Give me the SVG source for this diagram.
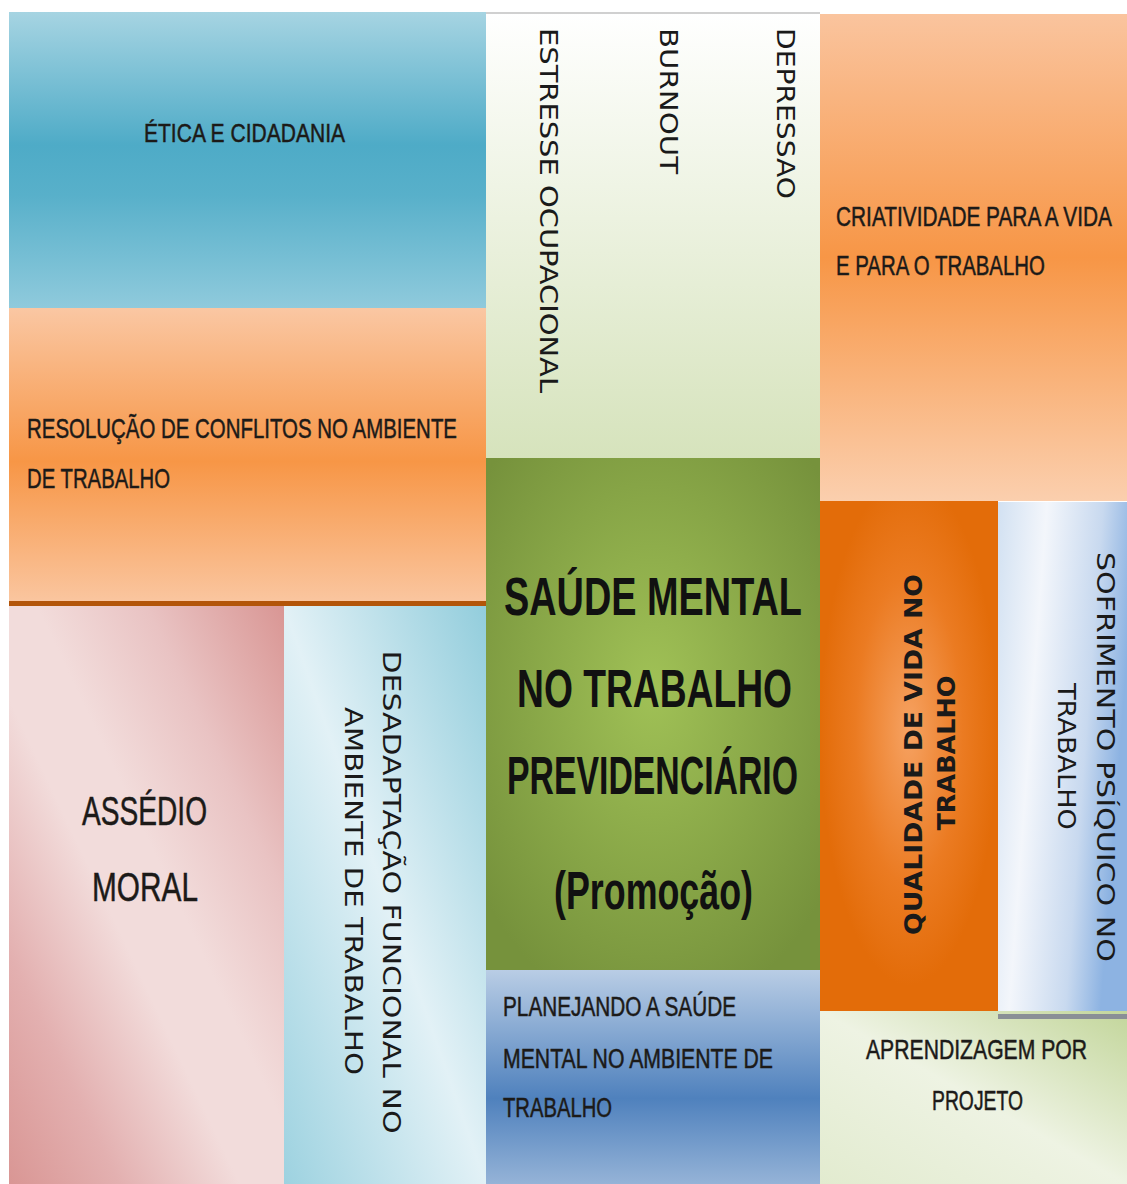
<svg xmlns="http://www.w3.org/2000/svg" width="1127" height="1184" viewBox="0 0 1127 1184">
<defs>
<style>
.h{font-family:"Liberation Sans","DejaVu Sans",sans-serif;fill:#1c1a18;stroke:#1c1a18;stroke-width:0.5px;font-size:27px}
.big{font-family:"Liberation Sans","DejaVu Sans",sans-serif;fill:#111;font-size:54px;font-weight:bold}
.v{font-family:"DejaVu Sans","Liberation Sans",sans-serif;fill:#1a1a1a;font-size:24px}
.vb{font-family:"DejaVu Sans","Liberation Sans",sans-serif;fill:#1a1a1a;font-size:24px;font-weight:bold}
</style>
<linearGradient id="gBlue" x1="0" y1="0" x2="0" y2="1">
<stop offset="0" stop-color="#a6d4e2"/><stop offset="0.45" stop-color="#4eabc7"/><stop offset="0.62" stop-color="#58b0ca"/><stop offset="1" stop-color="#8fcadc"/>
</linearGradient>
<linearGradient id="gOr1" x1="0" y1="0" x2="0" y2="1">
<stop offset="0" stop-color="#fac7a3"/><stop offset="0.52" stop-color="#f79646"/><stop offset="1" stop-color="#fac6a0"/>
</linearGradient>
<linearGradient id="gOr2" x1="0" y1="0" x2="0" y2="1">
<stop offset="0" stop-color="#fac49e"/><stop offset="0.5" stop-color="#f79646"/><stop offset="1" stop-color="#fbcfae"/>
</linearGradient>
<linearGradient id="gWhite" x1="0" y1="0" x2="0" y2="1">
<stop offset="0" stop-color="#ffffff"/><stop offset="1" stop-color="#d6e3bc"/>
</linearGradient>
<radialGradient id="gGreen" cx="0.5" cy="0.45" r="0.65">
<stop offset="0" stop-color="#a0c156"/><stop offset="1" stop-color="#76923c"/>
</radialGradient>
<linearGradient id="gPlan" x1="0" y1="0" x2="0" y2="1">
<stop offset="0" stop-color="#b9cde5"/><stop offset="0.6" stop-color="#4f81bd"/><stop offset="1" stop-color="#95b3d7"/>
</linearGradient>
<radialGradient id="gQual" cx="0.5" cy="0.45" r="0.5">
<stop offset="0" stop-color="#f6a262"/><stop offset="0.6" stop-color="#eb7b22"/><stop offset="1" stop-color="#e36c09"/>
</radialGradient>
<linearGradient id="gSof" x1="0" y1="0" x2="1" y2="0.3">
<stop offset="0" stop-color="#d2e1f2"/><stop offset="0.35" stop-color="#f3f6fb"/><stop offset="0.75" stop-color="#c8d9ef"/><stop offset="1" stop-color="#8db3e2"/>
</linearGradient>
<linearGradient id="gApr" x1="1" y1="0" x2="0" y2="1">
<stop offset="0" stop-color="#c3d69b"/><stop offset="0.5" stop-color="#eef3e3"/><stop offset="1" stop-color="#e2ebcf"/>
</linearGradient>
<linearGradient id="gPink" x1="1" y1="0" x2="0" y2="1">
<stop offset="0" stop-color="#d99694"/><stop offset="0.25" stop-color="#e9c3c3"/><stop offset="0.45" stop-color="#f2dcdb"/><stop offset="0.58" stop-color="#f2dcdb"/><stop offset="0.8" stop-color="#e3b0b0"/><stop offset="1" stop-color="#d99694"/>
</linearGradient>
<linearGradient id="gCyan" x1="1" y1="0" x2="0" y2="1">
<stop offset="0" stop-color="#92cddc"/><stop offset="0.5" stop-color="#e2f1f6"/><stop offset="1" stop-color="#9dd2e0"/>
</linearGradient>
</defs>
<rect width="1127" height="1184" fill="#ffffff"/>

<g id="etica">
<rect x="9" y="12" width="477" height="296" fill="url(#gBlue)"/>
<text class="h" x="144" y="142" style="font-size:26px" textLength="201" lengthAdjust="spacingAndGlyphs">ÉTICA E CIDADANIA</text>
</g>

<g id="resolucao">
<rect x="9" y="308" width="477" height="295" fill="url(#gOr1)"/>
<rect x="9" y="601" width="477" height="5" fill="#b35509"/>
<text class="h" x="27" y="438" style="font-size:28px" textLength="430" lengthAdjust="spacingAndGlyphs">RESOLUÇÃO DE CONFLITOS NO AMBIENTE</text>
<text class="h" x="27" y="488" style="font-size:28px" textLength="143" lengthAdjust="spacingAndGlyphs">DE TRABALHO</text>
</g>

<g id="assedio">
<rect x="9" y="606" width="275" height="578" fill="url(#gPink)"/>
<text class="h" x="82" y="825" style="font-size:41px" textLength="125" lengthAdjust="spacingAndGlyphs">ASSÉDIO</text>
<text class="h" x="92" y="901" style="font-size:41px" textLength="106" lengthAdjust="spacingAndGlyphs">MORAL</text>
</g>

<g id="desadaptacao">
<rect x="284" y="606" width="202" height="578" fill="url(#gCyan)"/>
<text class="v" transform="translate(383,892) rotate(90)" text-anchor="middle" textLength="483" lengthAdjust="spacingAndGlyphs">DESADAPTAÇÃO FUNCIONAL NO</text>
<text class="v" transform="translate(345,891) rotate(90)" text-anchor="middle" textLength="368" lengthAdjust="spacingAndGlyphs">AMBIENTE DE TRABALHO</text>
</g>

<g id="sintomas">
<rect x="486" y="12" width="334" height="446" fill="url(#gWhite)"/>
<line x1="486" y1="13" x2="820" y2="13" stroke="#d0d0d0" stroke-width="2"/>
<text class="v" transform="translate(540,28) rotate(90)" textLength="365" lengthAdjust="spacingAndGlyphs">ESTRESSE OCUPACIONAL</text>
<text class="v" transform="translate(660,28) rotate(90)" textLength="146" lengthAdjust="spacingAndGlyphs">BURNOUT</text>
<text class="v" transform="translate(777,28) rotate(90)" textLength="171" lengthAdjust="spacingAndGlyphs">DEPRESSAO</text>
</g>

<g id="central">
<rect x="486" y="458" width="334" height="512" fill="url(#gGreen)"/>
<text class="big" x="504" y="615" textLength="298" lengthAdjust="spacingAndGlyphs">SAÚDE MENTAL</text>
<text class="big" x="517" y="707" textLength="275" lengthAdjust="spacingAndGlyphs">NO TRABALHO</text>
<text class="big" x="507" y="794" textLength="291" lengthAdjust="spacingAndGlyphs">PREVIDENCIÁRIO</text>
<text class="big" x="554" y="909" textLength="199" lengthAdjust="spacingAndGlyphs">(Promoção)</text>
</g>

<g id="planejando">
<rect x="486" y="970" width="334" height="214" fill="url(#gPlan)"/>
<text class="h" x="503" y="1016" textLength="233" lengthAdjust="spacingAndGlyphs">PLANEJANDO A SAÚDE</text>
<text class="h" x="503" y="1068" textLength="270" lengthAdjust="spacingAndGlyphs">MENTAL NO AMBIENTE DE</text>
<text class="h" x="503" y="1117" textLength="109" lengthAdjust="spacingAndGlyphs">TRABALHO</text>
</g>

<g id="criatividade">
<rect x="820" y="14" width="307" height="487" fill="url(#gOr2)"/>
<text class="h" transform="translate(836,226) scale(0.754,1)" x="0" y="0" textLength="366" lengthAdjust="spacingAndGlyphs">CRIATIVIDADE PARA A VIDA</text>
<text class="h" transform="translate(836,275) scale(0.754,1)" x="0" y="0" textLength="277" lengthAdjust="spacingAndGlyphs">E PARA O TRABALHO</text>
</g>

<g id="qualidade">
<rect x="820" y="501" width="178" height="510" fill="url(#gQual)"/>
<text class="vb" transform="translate(922,754.5) rotate(-90)" text-anchor="middle" textLength="361" lengthAdjust="spacingAndGlyphs">QUALIDADE DE VIDA NO</text>
<text class="vb" transform="translate(955,753) rotate(-90)" text-anchor="middle" textLength="155" lengthAdjust="spacingAndGlyphs">TRABALHO</text>
</g>

<g id="sofrimento">
<rect x="998" y="502" width="129" height="517" fill="url(#gSof)"/>
<text class="v" transform="translate(1097,757) rotate(90)" text-anchor="middle" textLength="410" lengthAdjust="spacingAndGlyphs">SOFRIMENTO PSÍQUICO NO</text>
<text class="v" transform="translate(1058,756.5) rotate(90)" text-anchor="middle" textLength="147" lengthAdjust="spacingAndGlyphs">TRABALHO</text>
</g>

<g id="aprendizagem">
<rect x="820" y="1011" width="307" height="173" fill="url(#gApr)"/>
<rect x="998" y="1014" width="129" height="5" fill="#8a8f96"/>
<text class="h" transform="translate(866,1059) scale(0.784,1)" x="0" y="0" textLength="282" lengthAdjust="spacingAndGlyphs">APRENDIZAGEM POR</text>
<text class="h" transform="translate(932,1110) scale(0.784,1)" x="0" y="0" textLength="116" lengthAdjust="spacingAndGlyphs">PROJETO</text>
</g>

<g id="connectors"/>
</svg>
